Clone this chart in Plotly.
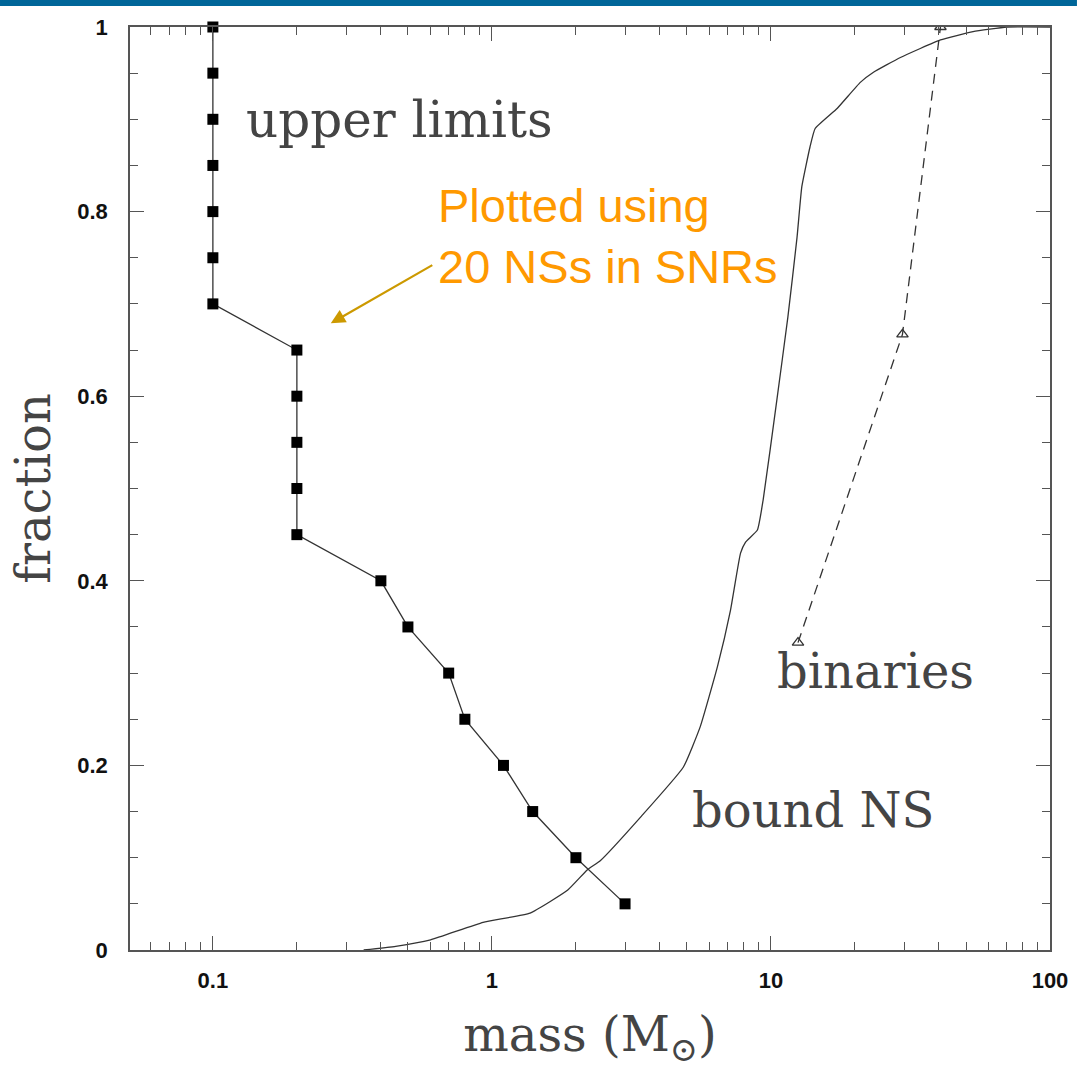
import numpy as np
import plotly.graph_objects as go

# ---- data ----
ul_mass = [0.1, 0.1, 0.1, 0.1, 0.1, 0.1, 0.1, 0.2, 0.2, 0.2, 0.2, 0.2,
           0.4, 0.5, 0.7, 0.8, 1.1, 1.4, 2.0, 3.0]
ul_frac = [1.0, 0.95, 0.9, 0.85, 0.8, 0.75, 0.7, 0.65, 0.6, 0.55, 0.5, 0.45,
           0.4, 0.35, 0.3, 0.25, 0.2, 0.15, 0.1, 0.05]

bin_mass = [12.5, 29.6, 40.5]
bin_frac = [0.333, 0.667, 1.0]

bound_mass = [0.347, 0.452, 0.603, 0.93, 1.37, 1.87, 2.2, 2.45, 3.41, 4.85,
              5.58, 6.43, 7.16, 7.78, 8.11, 8.94, 9.38, 10.5, 11.5, 12.4,
              12.9, 13.8, 14.4, 17.3, 20.9, 23.3, 29.1, 40.5, 53.0, 70.0, 100.0]
bound_frac = [0.0, 0.004, 0.011, 0.030, 0.040, 0.065, 0.087, 0.097, 0.144, 0.198,
              0.242, 0.307, 0.368, 0.430, 0.442, 0.455, 0.488, 0.596, 0.686, 0.772,
              0.827, 0.870, 0.890, 0.912, 0.940, 0.951, 0.967, 0.986, 0.995, 1.0, 1.0]

x_major = [0.1, 1, 10, 100]
x_major_text = ["0.1", "1", "10", "100"]
x_minor = [m * d for d in [0.01, 0.1, 1, 10] for m in range(2, 10) if 0.05 < m * d < 100]

LINE = "#333333"
SERIF = "DejaVu Serif"
TXT = "#444444"

fig = go.Figure()

fig.add_trace(go.Scatter(
    x=bound_mass, y=bound_frac, mode="lines",
    line=dict(color=LINE, width=1.3, shape="spline", smoothing=0.4),
    showlegend=False, hoverinfo="skip"))

fig.add_trace(go.Scatter(
    x=bin_mass, y=bin_frac, mode="lines+markers",
    line=dict(color=LINE, width=1.3, dash="10px,7px"),
    marker=dict(symbol="triangle-up-open", size=10, color=LINE, line=dict(width=1.3)),
    showlegend=False))

fig.add_trace(go.Scatter(
    x=ul_mass, y=ul_frac, mode="lines+markers",
    line=dict(color=LINE, width=1.3),
    marker=dict(symbol="square", size=11, color="black"),
    cliponaxis=False, showlegend=False))

tickfont = dict(family="Liberation Sans", size=22, color="#111111", weight="bold")

fig.update_xaxes(
    type="log", range=[-1.297, 2.0],
    tickmode="array", tickvals=x_major, ticktext=x_major_text,
    ticks="inside", ticklen=14, tickwidth=1.3, tickcolor="#555555",
    minor=dict(tickmode="array", tickvals=x_minor, ticks="inside", ticklen=8,
               tickwidth=1.3, tickcolor="#555555", showgrid=False),
    showline=True, linecolor="#555555", linewidth=1.6, mirror="allticks",
    showgrid=False, zeroline=False, tickfont=tickfont, ticklabelstandoff=10,
    title=dict(text="mass (M<sub>⊙</sub>)",
               font=dict(family=SERIF, size=48, color=TXT), standoff=25))

fig.update_yaxes(
    range=[0, 1], dtick=0.2, tick0=0,
    ticks="inside", ticklen=14, tickwidth=1.3, tickcolor="#555555",
    minor=dict(dtick=0.05, ticks="inside", ticklen=8, tickwidth=1.3,
               tickcolor="#555555", showgrid=False),
    showline=True, linecolor="#555555", linewidth=1.6, mirror="allticks",
    showgrid=False, zeroline=False, tickfont=tickfont, ticklabelstandoff=16,
    title=dict(text="fraction", font=dict(family=SERIF, size=48, color=TXT),
               standoff=11))

fig.add_annotation(x=np.log10(0.129), y=0.899, text="upper limits", showarrow=False,
                   xanchor="left", yanchor="middle",
                   font=dict(family=SERIF, size=50, color=TXT))
fig.add_annotation(x=np.log10(10.37), y=0.302, text="binaries", showarrow=False,
                   xanchor="left", yanchor="middle",
                   font=dict(family=SERIF, size=48, color=TXT))
fig.add_annotation(x=np.log10(5.14), y=0.152, text="bound NS", showarrow=False,
                   xanchor="left", yanchor="middle",
                   font=dict(family=SERIF, size=48, color=TXT))

fig.add_annotation(xref="paper", yref="paper", x=0.333, y=0.7735,
                   text="Plotted using<br>20 NSs in SNRs", showarrow=False,
                   xanchor="left", yanchor="middle", align="left",
                   font=dict(family="Liberation Sans", size=47, color="#FF9900"))
fig.add_annotation(x=np.log10(0.2646), y=0.679, text="", showarrow=True,
                   ax=103, ay=-59, arrowcolor="#CC9900", arrowwidth=2.2,
                   arrowhead=2, arrowsize=1.3)

fig.add_shape(type="rect", xref="paper", yref="paper",
              x0=-0.1413, x1=1.0293, y0=1.0228, y1=1.0293,
              fillcolor="#006699", line=dict(width=0), layer="above")

fig.update_layout(
    width=1077, height=1077,
    margin=dict(l=130, r=27, t=27, b=127, autoexpand=False),
    paper_bgcolor="white", plot_bgcolor="white",
    showlegend=False)

fig.write_html("out.html", config={"displayModeBar": False},
               post_script="document.body.style.margin='0';document.body.style.overflow='hidden';")
